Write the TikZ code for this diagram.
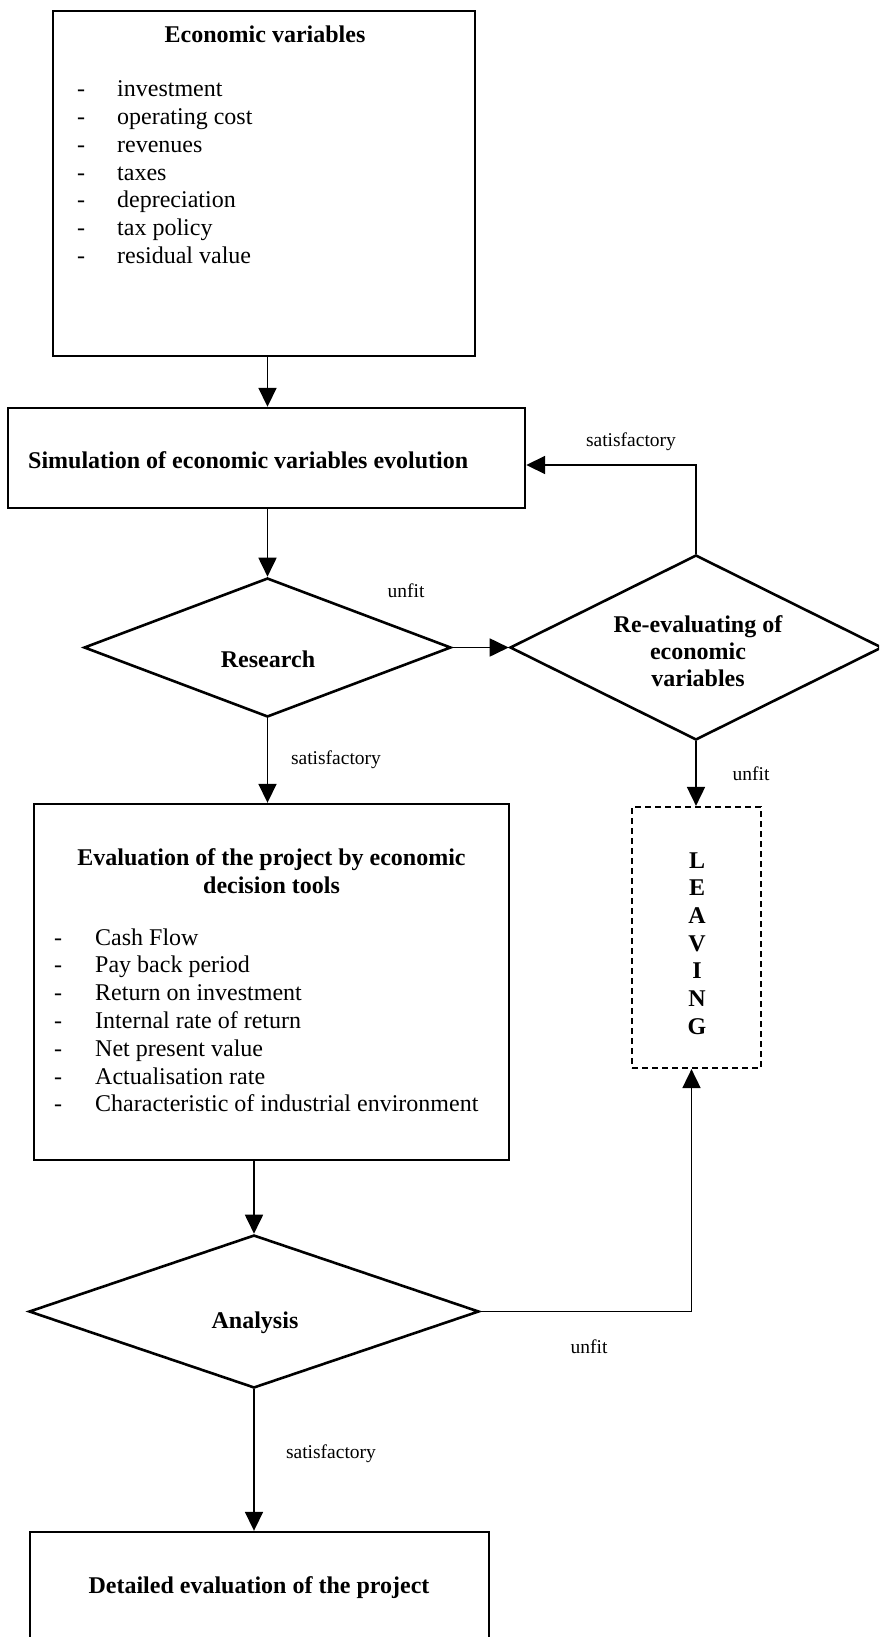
\documentclass[tikz,border=0pt]{standalone}
\usepackage{fontspec}
\setmainfont{Liberation Serif}
\usetikzlibrary{arrows.meta,shapes.geometric}
\begin{document}
\tikzset{
  frame/.style={draw, line width=2.4pt, inner sep=0pt},
  dmd/.style={draw, diamond, line width=2.6pt, inner sep=0pt},
  dashbox/.style={draw, dash pattern=on 6pt off 4pt, line width=2.2pt, inner sep=0pt},
  arr/.style={line width=1.8pt, -{Triangle[length=19pt,width=18pt]}},
  big/.style={font=\fontsize{24}{27.7}\selectfont, inner sep=0pt},
  bigb/.style={font=\fontsize{24}{27.7}\selectfont\bfseries, inner sep=0pt},
  lbl/.style={font=\fontsize{19.5}{22}\selectfont, inner sep=0pt, anchor=base},
}
\begin{tikzpicture}[x=1pt,y=-1pt]
\useasboundingbox (0,0) rectangle (879,1637);
\clip (0,0) rectangle (879,1637);

% economic variables
\node[frame, minimum width=422pt, minimum height=345pt] (econ) at (264,183.5) {};
\node[bigb, anchor=base] (econT) at (265,43) {Economic variables};
\foreach \t [count=\i] in {investment, operating cost, revenues, taxes, depreciation, tax policy, residual value}
  \node[big, anchor=base west] (econ\i) at (77,{97+27.7*(\i-1)}) {\makebox[40pt][l]{-}\t};

% simulation
\node[frame, minimum width=517pt, minimum height=100pt] (sim) at (266.5,458) {};
\node[bigb, anchor=base west] (simT) at (28,468) {Simulation of economic variables evolution};

% research decision
\node[dmd, minimum width=367pt, minimum height=139pt] (res) at (267.5,647.5) {};
\node[bigb, anchor=base] (resT) at (268,667) {Research};

% re-evaluation decision
\node[dmd, minimum width=372pt, minimum height=185pt] (reev) at (696,647.5) {};
\node[bigb, anchor=base] (reevT1) at (698,632) {Re-evaluating of};
\node[bigb, anchor=base] (reevT2) at (698,659) {economic};
\node[bigb, anchor=base] (reevT3) at (698,686) {variables};

% evaluation by decision tools
\node[frame, minimum width=475pt, minimum height=356pt] (eval) at (271.5,982) {};
\node[bigb, anchor=base] (evalT1) at (271.5,865) {Evaluation of the project by economic};
\node[bigb, anchor=base] (evalT2) at (271.5,893) {decision tools};
\foreach \t [count=\i] in {Cash Flow, Pay back period, Return on investment, Internal rate of return, Net present value, Actualisation rate, Characteristic of industrial environment}
  \node[big, anchor=base west] (tool\i) at (54,{945+27.8*(\i-1)}) {\makebox[41pt][l]{-}\t};

% leaving
\node[dashbox, minimum width=129pt, minimum height=261pt] (leave) at (696.5,937.5) {};
\foreach \c [count=\i] in {L,E,A,V,I,N,G}
  \node[bigb, anchor=base] (lv\i) at (697,{868+27.7*(\i-1)}) {\c};

% analysis decision
\node[dmd, minimum width=450pt, minimum height=153pt] (anal) at (254,1311.5) {};
\node[bigb, anchor=base] (analT) at (255,1328) {Analysis};

% detailed evaluation
\node[frame, minimum width=459pt, minimum height=140pt] (det) at (259.5,1602) {};
\node[bigb, anchor=base] (detT) at (259,1593) {Detailed evaluation of the project};

% connectors
\draw[arr] (econ.south -| res.north) -- (sim.north -| res.north);
\draw[arr] (sim.south -| res.north) -- (res.north);
\draw[arr] (res.east) -- (reev.west);
\draw[arr] (reev.north) |- ([yshift=-7pt]sim.east);
\draw[arr] (reev.south) -- (reev.south |- leave.north);
\draw[arr] (res.south) -- (res.south |- eval.north);
\draw[arr] (eval.south -| anal.north) -- (anal.north);
\draw[arr] (anal.east) -| ([xshift=-5pt]leave.south);
\draw[arr] (anal.south) -- (anal.south |- det.north);

% connector labels
\node[lbl] (l1) at (631,446) {satisfactory};
\node[lbl] (l2) at (406,597) {unfit};
\node[lbl] (l3) at (336,764) {satisfactory};
\node[lbl] (l4) at (751,780) {unfit};
\node[lbl] (l5) at (589,1353) {unfit};
\node[lbl] (l6) at (331,1458) {satisfactory};
\end{tikzpicture}
\end{document}
